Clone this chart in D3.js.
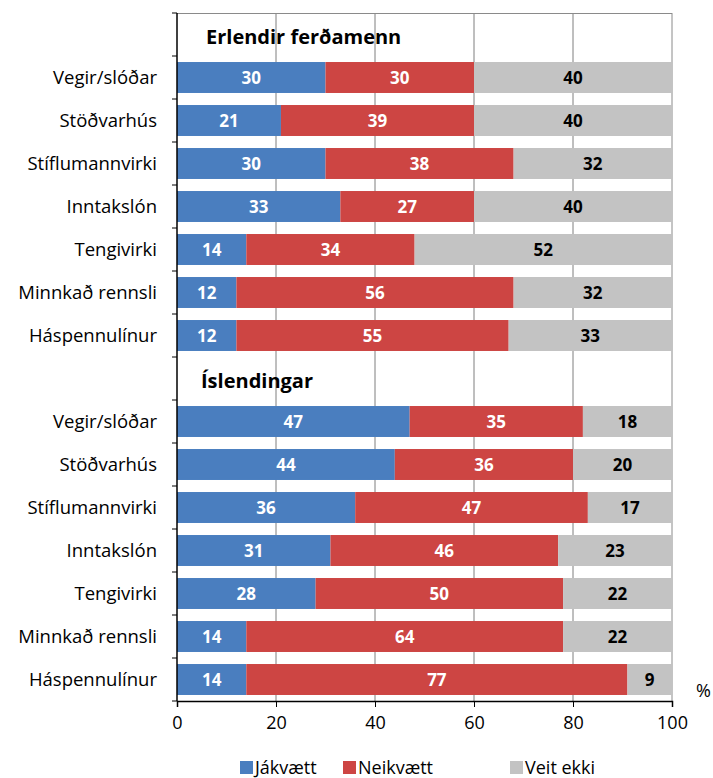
<!DOCTYPE html>
<html>
<head>
<meta charset="utf-8">
<script src="https://cdn.jsdelivr.net/npm/d3@7"></script>
<style>
  body { margin: 0; background: #fff; }
  svg text { font-family: "Open Sans", Lato, sans-serif; }
</style>
</head>
<body>
<svg width="713" height="778"></svg>
<script>
// data
var groups = ["Erlendir ferðamenn", "Íslendingar"];
var items = ["Vegir/slóðar", "Stöðvarhús", "Stíflumannvirki", "Inntakslón", "Tengivirki", "Minnkað rennsli", "Háspennulínur"];
var seriesNames = ["Jákvætt", "Neikvætt", "Veit ekki"];
var erlJak = [30, 21, 30, 33, 14, 12, 12];
var erlNei = [30, 39, 38, 27, 34, 56, 55];
var erlVeit = [40, 40, 32, 40, 52, 32, 33];
var islJak = [47, 44, 36, 31, 28, 14, 14];
var islNei = [35, 36, 47, 46, 50, 64, 77];
var islVeit = [18, 20, 17, 23, 22, 22, 9];
var xTicks = [0, 20, 40, 60, 80, 100];
var colors = ["#4a7ebf", "#cd4543", "#c3c3c3"];

var svg = d3.select("svg");
var margin = {left: 177, right: 41, top: 13, bottom: 77};
var W = 713 - margin.left - margin.right;
var H = 778 - margin.top - margin.bottom;
var g = svg.append("g").attr("transform", "translate(" + margin.left + "," + margin.top + ")");

// rows: header + items for each group
var rows = [];
groups.forEach(function(gr, gi) {
  rows.push({key: "h" + gi, header: gr});
  items.forEach(function(it, i) {
    var v = gi == 0 ? [erlJak[i], erlNei[i], erlVeit[i]] : [islJak[i], islNei[i], islVeit[i]];
    rows.push({key: gi + "_" + i, label: it, values: v});
  });
});

var x = d3.scaleLinear().domain([0, 100]).range([0, W]);
var y = d3.scaleBand().domain(rows.map(d => d.key)).range([0, H]).paddingInner(0.28).paddingOuter(0.14);
var step = y.step();

// grid
g.selectAll(".grid").data([20, 40, 60, 80]).enter().append("line")
  .attr("x1", d => x(d)).attr("x2", d => x(d)).attr("y1", 0).attr("y2", H)
  .attr("stroke", "#7f7f7f").attr("stroke-width", 1);
g.append("line").attr("x1", 0).attr("x2", W).attr("y1", 0.5).attr("y2", 0.5).attr("stroke", "#8a8a8a");
g.append("line").attr("x1", W).attr("x2", W).attr("y1", 0).attr("y2", H).attr("stroke", "#8a8a8a");

// bars
var dataRows = rows.filter(d => d.values);
var stack = [];
dataRows.forEach(function(r) {
  var acc = 0;
  r.values.forEach(function(v, k) {
    stack.push({key: r.key, k: k, x0: acc, x1: acc + v, v: v});
    acc += v;
  });
});
g.selectAll(".bar").data(stack).enter().append("rect")
  .attr("x", d => x(d.x0)).attr("width", d => x(d.x1) - x(d.x0))
  .attr("y", d => y(d.key)).attr("height", y.bandwidth())
  .attr("fill", d => colors[d.k]);

g.selectAll(".val").data(stack).enter().append("text")
  .attr("x", d => (x(d.x0) + x(d.x1)) / 2)
  .attr("y", d => y(d.key) + y.bandwidth() / 2)
  .attr("dy", "0.36em").attr("text-anchor", "middle")
  .attr("font-size", 17).attr("font-weight", "bold")
  .attr("fill", d => d.k == 2 ? "#000" : "#fff")
  .text(d => d.v);

// headers
g.selectAll(".hdr").data(rows.filter(d => d.header)).enter().append("text")
  .attr("x", (d, i) => i == 0 ? 29 : 24)
  .attr("y", d => y(d.key) + y.bandwidth() / 2 + 2)
  .attr("dy", "0.36em").attr("font-size", 20).attr("font-weight", "bold").attr("fill", "#000")
  .text(d => d.header);

// y axis
g.append("line").attr("x1", 0).attr("x2", 0).attr("y1", 0).attr("y2", H).attr("stroke", "#000").attr("stroke-width", 1.5);
g.selectAll(".ytick").data(d3.range(rows.length + 1)).enter().append("line")
  .attr("x1", -5).attr("x2", 0)
  .attr("y1", d => d * step).attr("y2", d => d * step)
  .attr("stroke", "#000");
g.selectAll(".ylab").data(dataRows).enter().append("text")
  .attr("x", -20).attr("y", d => y(d.key) + y.bandwidth() / 2)
  .attr("dy", "0.36em").attr("text-anchor", "end").attr("font-size", 18.5).attr("fill", "#000")
  .text(d => d.label);

// x axis
var xAxis = g.append("g").attr("transform", "translate(0," + H + ")")
  .call(d3.axisBottom(x).tickValues(xTicks).tickSize(6).tickPadding(9));
xAxis.select(".domain").attr("stroke", "#000").attr("stroke-width", 1.5);
xAxis.selectAll("text").attr("font-size", 18).attr("fill", "#000")
  .style("font-family", "'Open Sans', Lato, sans-serif");
g.append("text").attr("x", W + 24).attr("y", H - 4).attr("font-size", 18).attr("fill", "#000").text("%");

// legend
var legX = [240, 343, 510];
var leg = svg.selectAll(".leg").data(seriesNames).enter().append("g")
  .attr("transform", (d, i) => "translate(" + legX[i] + ",760)");
leg.append("rect").attr("width", 13).attr("height", 13).attr("y", 1).attr("fill", (d, i) => colors[i]);
leg.append("text").attr("x", 15).attr("y", 8).attr("dy", "0.36em").attr("font-size", 18).attr("fill", "#000").text(d => d);
</script>
</body>
</html>
